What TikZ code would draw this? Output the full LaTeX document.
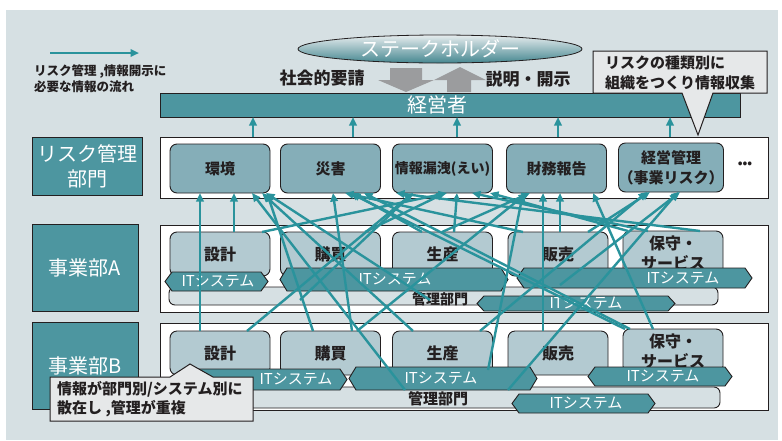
\documentclass[tikz,border=0pt]{standalone}
\usepackage{fontspec}
\setmainfont{Noto Sans CJK JP}
\usetikzlibrary{arrows.meta,shapes.geometric}
\definecolor{bgc}{HTML}{D6E0E3}
\definecolor{tealc}{HTML}{4D96A0}
\definecolor{linec}{HTML}{2A939C}
\definecolor{riskc}{HTML}{85AEB8}
\definecolor{deptc}{HTML}{B3CAD1}
\definecolor{callc}{HTML}{E6E8E9}
\definecolor{grayc}{HTML}{9B9C9E}
\definecolor{darkc}{HTML}{231F20}
\newcommand{\itbar}[5]{%
  \draw[itshape] (#1,{(#3+#4)/2}) -- (#1+7,#3) -- (#2-7,#3) -- (#2,{(#3+#4)/2}) -- (#2-7,#4) -- (#1+7,#4) -- cycle;
  \node[ittext] at (#5,{(#3+#4)/2}) {ITシステム};}
\begin{document}
\begin{tikzpicture}[x=1pt,y=-1pt,
  conn/.style={draw=linec, line width=2.4pt, -{Triangle[length=8.5pt,width=7.5pt]}},
  riskbox/.style={draw=darkc, line width=0.9pt, fill=riskc, rounded corners=7pt, minimum width=100pt, minimum height=49pt, inner sep=0pt, outer sep=0pt, font=\fontsize{15}{19}\selectfont\bfseries, text=darkc, align=center},
  deptbox/.style={draw=darkc, line width=0.9pt, fill=deptc, rounded corners=7pt, minimum width=100pt, minimum height=44pt, inner sep=0pt, outer sep=0pt, font=\fontsize{16}{20}\selectfont\bfseries, text=darkc, align=center},
  sidelabel/.style={draw=darkc, fill=tealc, line width=1pt, text=white, font=\fontsize{20}{25}\selectfont, align=center, inner sep=0pt, outer sep=0pt},
  panel/.style={draw=darkc, fill=white, line width=0.9pt, inner sep=0pt, outer sep=0pt},
  mgmt/.style={draw=darkc, fill=bgc, line width=0.9pt, rounded corners=6pt},
  itshape/.style={draw=darkc, fill=tealc, line width=0.9pt},
  ittext/.style={text=white, font=\fontsize{15}{17}\selectfont, inner sep=0pt},
  callout/.style={draw=darkc, fill=callc, line width=1pt},
  bodytext/.style={text=darkc, font=\fontsize{15}{19}\selectfont\bfseries, inner sep=0pt, align=left}]
% background
\fill[white] (0,0) rectangle (782,440);
\fill[bgc] (6,10) rectangle (778,440);
% legend
\coordinate (lg1) at (50,53);
\coordinate (lg2) at (139,53);
\draw[conn] (lg1) -- (lg2);
\node[text=darkc, font=\fontsize{12.5}{16}\selectfont\bfseries, anchor=north west, align=left, inner sep=0pt] (lgt) at (34,64) {リスク管理 ,情報開示に\\必要な情報の流れ};
% stakeholder
\node[ellipse, draw=darkc, line width=0.8pt, top color=bgc!60!white, bottom color=tealc!90!black, minimum width=284pt, minimum height=28pt, inner sep=0pt, text=white, font=\fontsize{20}{22}\selectfont] (sh) at (440,49) {ステークホルダー};
% gray arrows
\fill[grayc] (390,68) -- (422,68) -- (422,80) -- (434,80) -- (406,92) -- (378,80) -- (390,80) -- cycle;
\fill[grayc] (447,92) -- (471,92) -- (471,80) -- (486,80) -- (460,67) -- (434,80) -- (447,80) -- cycle;
\node[text=darkc, font=\fontsize{17}{19}\selectfont\bfseries] (req) at (322,78) {社会的要請};
\node[text=darkc, font=\fontsize{17}{19}\selectfont\bfseries] (disc) at (528,79) {説明・開示};
% management bar
\node[draw=darkc, fill=tealc, line width=1pt, minimum width=580pt, minimum height=24pt, inner sep=0pt, outer sep=0pt] (mgr) at (450,105) {};
\node[text=white, font=\fontsize{20}{22}\selectfont] (mgrt) at (437,105) {経営者};
% top callout
\draw[callout] (593,51) -- (767,51) -- (767,93) -- (713,93) -- (698,135) -- (682,93) -- (593,93) -- cycle;
\node[bodytext, anchor=west] (ct1) at (605,63) {リスクの種類別に};
\node[bodytext, anchor=west] (ct2) at (605,83) {組織をつくり情報収集};
% side labels
\node[sidelabel, minimum width=110pt, minimum height=58pt] (lr) at (87,166) {リスク管理\\部門};
\node[sidelabel, minimum width=106pt, minimum height=87pt] (la) at (85,267.5) {事業部A};
\node[sidelabel, minimum width=106pt, minimum height=87pt] (lb) at (85,365.5) {事業部B};
% panels
\node[panel, minimum width=608pt, minimum height=61pt] (rp) at (464,167.5) {};
\node[panel, minimum width=608pt, minimum height=87pt] (pa) at (464,268.5) {};
\node[panel, minimum width=608pt, minimum height=87pt] (pb) at (464,366.5) {};
% risk boxes
\node[riskbox] (r1) at (220,168.5) {環境};
\node[riskbox] (r2) at (330.5,168.5) {災害};
\node[riskbox, font=\fontsize{14}{17}\selectfont\bfseries] (r3) at (442.5,168.5) {情報漏洩(えい)};
\node[riskbox] (r4) at (556.5,168.5) {財務報告};
\node[riskbox, font=\fontsize{15}{20}\selectfont\bfseries] (r5) at (671,167.5) {経営管理\\（事業リスク）};
\node[text=darkc, font=\fontsize{12}{12}\selectfont\bfseries] (dots) at (745,165) {•••};
% management rects
\draw[mgmt] (169,287) rectangle (718,305);
\draw[mgmt] (169,387) rectangle (720,408);
% dept boxes A
\node[deptbox] (a1) at (220,254) {設計};
\node[deptbox] (a2) at (330.5,254) {購買};
\node[deptbox] (a3) at (442.5,254) {生産};
\node[deptbox] (a4) at (558,254) {販売};
\node[deptbox] (a5) at (673,253) {保守・\\サービス};
% dept boxes B
\node[deptbox] (b1) at (220,353) {設計};
\node[deptbox] (b2) at (330.5,353) {購買};
\node[deptbox] (b3) at (442.5,353) {生産};
\node[deptbox] (b4) at (558,353) {販売};
\node[deptbox] (b5) at (673,351) {保守・\\サービス};
% management texts
\node[text=darkc, font=\fontsize{14}{16}\selectfont\bfseries] (ma) at (440,299) {管理部門};
\node[text=darkc, font=\fontsize{15}{17}\selectfont\bfseries] (mb) at (438,399) {管理部門};
% IT bars A
\itbar{165}{268}{272}{291}{218}
\itbar{280}{508}{268}{291}{395}
\itbar{517}{752}{268}{288}{683}
\itbar{477}{675}{296}{311}{586}
% IT bars B
\itbar{185}{347}{369}{390}{296}
\itbar{349}{537}{367}{390}{441}
\itbar{588}{732}{367}{386}{663}
\itbar{512}{655}{394}{413}{586}
% free source points
\coordinate (s9) at (405,390);
\coordinate (s10) at (508,390);
\coordinate (s15) at (488,370);
\coordinate (s30) at (430,300);
\coordinate (s31) at (560,285);
\coordinate (s35) at (300,300);
% arrows to management
\foreach \xx in {253,353,457,558,670}
  \draw[conn] (\xx,0 |- rp.north) -- (\xx,0 |- mgr.south);
% connectors
\draw[conn] (200,0 |- b1.north) -- (200,0 |- r1.south);
\draw[conn] (234,0 |- a1.north) -- (234,0 |- r1.south);
\draw[conn] (247,0 |- b1.north) -- (413,0 |- r3.south);
\draw[conn] (313,0 |- b2.north) -- (267,0 |- r1.south);
\draw[conn] (352,0 |- b2.north) -- (333,0 |- r2.south);
\draw[conn] (357,0 |- b2.north) -- (527,0 |- r4.south);
\draw[conn] (413,0 |- b3.north) -- (262,0 |- r1.south);
\draw[conn] (480,0 |- b3.north) -- (647,0 |- r5.south);
\draw[conn] (s9) -- (252,0 |- r1.south);
\draw[conn] (s10) -- (678,0 |- r5.south);
\draw[conn] (543,0 |- b4.north) -- (543,0 |- r4.south);
\draw[conn] (625,0 |- b5.north) -- (350,0 |- r2.south);
\draw[conn] (630,0 |- b5.north) -- (364,0 |- r2.south);
\draw[conn] (653,0 |- b5.north) -- (593,0 |- r4.south);
\draw[conn] (s15) -- (523,0 |- r4.south);
\draw[conn] (454,0 |- a3.north) -- (457,0 |- r3.south);
\draw[conn] (560,0 |- a4.north) -- (560,0 |- r4.south);
\draw[conn] (262,0 |- a1.north) -- (447,0 |- r3.south);
\draw[conn] (422,0 |- a3.north) -- (352,0 |- r2.south);
\draw[conn] (523,0 |- a4.north) -- (345,0 |- r2.south);
\draw[conn] (648,0 |- a5.north) -- (472,0 |- r3.south);
\draw[conn] (628,0 |- a5.north) -- (490,0 |- r3.south);
\draw[conn] (442,0 |- a3.north) -- (530,0 |- r4.south);
\draw[conn] (588,0 |- a4.north) -- (650,0 |- r5.south);
\draw[conn] (s30) -- (266,0 |- r1.south);
\draw[conn] (s31) -- (680,0 |- r5.south);
\draw[conn] (700,0 |- a5.north) -- (396,0 |- r3.south);
\draw[conn] (365,0 |- a2.north) -- (445,0 |- r3.south);
\draw[conn] (s35) -- (413,0 |- r3.south);
% bottom-left callout
\draw[callout] (50,377) -- (170,377) -- (190,364) -- (213,377) -- (253,377) -- (253,421) -- (50,421) -- cycle;
\node[bodytext, anchor=west] (cb1) at (57,389) {情報が部門別/システム別に};
\node[bodytext, anchor=west] (cb2) at (57,409) {散在し ,管理が重複};
\end{tikzpicture}
\end{document}
